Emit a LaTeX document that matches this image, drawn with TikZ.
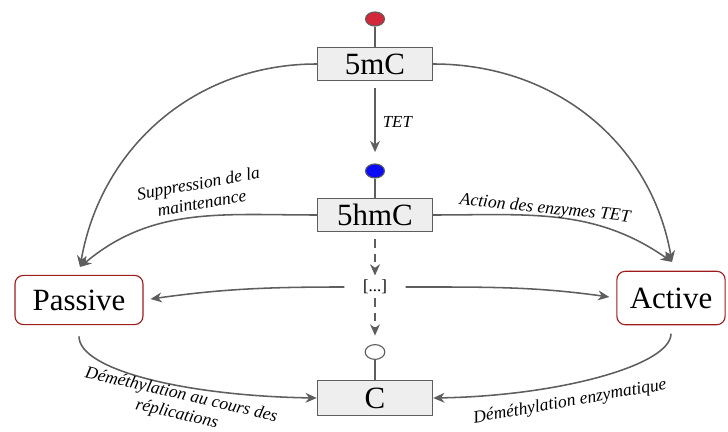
\documentclass[tikz,border=0pt]{standalone}
\usepackage{fontspec}
\setmainfont{Liberation Serif}
\usetikzlibrary{arrows.meta,shapes.geometric}
\definecolor{line-gray}{HTML}{5E5E5E}
\definecolor{box-fill}{HTML}{EEEEEE}
\definecolor{box-red}{HTML}{9E1C1C}
\definecolor{dot-red}{HTML}{D2283A}
\definecolor{dot-blue}{HTML}{0A0AF5}
\tikzset{
    mol-box/.style = {draw=line-gray, fill=box-fill, thick, rectangle, minimum width=82pt, minimum height=24pt, inner sep=0pt, font=\fontsize{22}{24}\selectfont},
    state-box/.style = {draw=box-red, fill=white, thick, rectangle, rounded corners=6pt, minimum height=36pt, inner sep=0pt, font=\fontsize{22}{24}\selectfont},
    mark-dot/.style = {draw=line-gray, thick, ellipse, minimum width=13.5pt, minimum height=10pt, inner sep=0pt},
    stem/.style = {draw=line-gray, thick},
    flow/.style = {draw=line-gray, line width=1.1pt, -{Stealth[length=8pt,width=7pt,inset=2.5pt]}},
    flow-label/.style = {font=\fontsize{12.5}{14}\selectfont\itshape, align=center, inner sep=1pt},
}
\begin{document}
\begin{tikzpicture}[x=0.025cm, y=0.025cm]
\useasboundingbox (0,0) rectangle (728,432);
% molecules
\node[mol-box] (mC) at (375,368) {5mC};
\node[mol-box] (hmC) at (375,217) {5hmC};
\node[mol-box, minimum height=25pt] (cyt) at (375,34) {C};
\node[inner xsep=13pt, inner ysep=3pt, font=\large] (gap) at (375,145) {[...]};
\node[mark-dot, fill=dot-red] (mC-dot) at (375,413) {};
\node[mark-dot, fill=dot-blue] (hmC-dot) at (375,261) {};
\node[mark-dot, fill=white, minimum width=14pt, minimum height=10.5pt] (cyt-dot) at (375,80) {};
\draw[stem] (mC-dot) -- (mC);
\draw[stem] (hmC-dot) -- (hmC);
\draw[stem] (cyt-dot) -- (cyt);
% demethylation ways
\node[state-box, minimum width=91pt, minimum height=35pt] (passive) at (79,132) {Passive};
\node[state-box, minimum width=77pt, minimum height=38pt] (active) at (671,134) {Active};
\coordinate (passive-in) at (80,165);
\coordinate (active-in) at (672,170);
% vertical chain
\draw[flow, shorten <=5pt, shorten >=8pt] (mC) -- node[flow-label, right=4pt, font=\fontsize{12}{14}\selectfont\itshape] (tet) {TET} (hmC-dot);
\draw[flow, dash pattern=on 6pt off 4pt, shorten <=5pt] (hmC) -- (gap);
\draw[flow, dash pattern=on 6pt off 4pt, shorten >=6pt] (gap) -- (cyt-dot);
% curved arrows
\draw[flow] (mC.west) to[out=180, in=80] (passive-in);
\draw[flow] (hmC.west) to[out=180, in=40] (passive-in);
\draw[flow] (mC.east) to[out=0, in=100] (active-in);
\draw[flow] (hmC.east) to[out=0, in=145] (active-in);
\draw[flow, shorten >=5pt] (gap.west) to[out=180, in=8] (passive.east);
\draw[flow, shorten >=5pt] (gap.east) to[out=0, in=172] (active.west);
\draw[flow, shorten <=8pt] (passive.south) .. controls +(0,-45) and +(-130,2) .. (cyt.west);
\draw[flow, shorten <=6pt] (active.south) .. controls +(0,-40) and +(125,2) .. (cyt.east);
% labels
\node[flow-label, rotate=10] (supp) at (200,239) {Suppression de la\\maintenance};
\node[flow-label, rotate=-6] (act) at (545,223) {Action des enzymes TET};
\node[flow-label, rotate=-13] (repl) at (179,27) {Déméthylation au cours des\\réplications};
\node[flow-label, rotate=10] (enz) at (570,30) {Déméthylation enzymatique};
\end{tikzpicture}
\end{document}
